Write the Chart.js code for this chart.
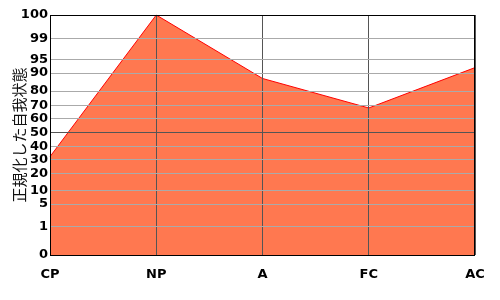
<!DOCTYPE html>
<html>
<head>
<meta charset="utf-8">
<script src="https://cdn.jsdelivr.net/npm/chart.js@4/dist/chart.umd.min.js"></script>
<style>
  html, body { margin: 0; padding: 0; background: #fff; }
  #wrap { width: 500px; height: 300px; }
</style>
</head>
<body>
<div id="wrap"><canvas id="egram"></canvas></div>
<script>
// data
const labels = ['CP', 'NP', 'A', 'FC', 'AC'];
const values = [32, 100, 87, 68, 92];
const tickValues = [0, 1, 5, 10, 20, 30, 40, 50, 60, 70, 80, 90, 95, 99, 100];

// percentile scale: where each tick sits, as a share of the axis height
const tickSpots = [0, 0.120, 0.2125, 0.270, 0.340, 0.399, 0.453, 0.511,
                   0.567, 0.624, 0.683, 0.758, 0.815, 0.903, 1];

class PercentScale extends Chart.LinearScale {
    determineDataLimits() {
        this.min = 0;
        this.max = 100;
    }
    buildTicks() {
        return tickValues.map(v => ({ value: v }));
    }
    toDecimal(v) {
        if (v <= tickValues[0]) return 0;
        for (let i = 1; i < tickValues.length; i++) {
            if (v <= tickValues[i]) {
                const a = tickValues[i - 1], b = tickValues[i];
                const t = (v - a) / (b - a);
                return tickSpots[i - 1] + t * (tickSpots[i] - tickSpots[i - 1]);
            }
        }
        return 1;
    }
    getPixelForValue(value) {
        return this.getPixelForDecimal(this.toDecimal(value));
    }
    getValueForPixel(pixel) {
        const d = this.getDecimalForPixel(pixel);
        for (let i = 1; i < tickSpots.length; i++) {
            if (d <= tickSpots[i]) {
                const t = (d - tickSpots[i - 1]) / (tickSpots[i] - tickSpots[i - 1]);
                return tickValues[i - 1] + t * (tickValues[i] - tickValues[i - 1]);
            }
        }
        return 100;
    }
}
PercentScale.id = 'percent';
PercentScale.defaults = {};
Chart.register(PercentScale);

// black frame round the plot
const frame = {
    id: 'frame',
    afterDraw: (chart) => {
        const a = chart.chartArea;
        const ctx = chart.ctx;
        ctx.save();
        ctx.strokeStyle = '#000';
        ctx.lineWidth = 1;
        ctx.strokeRect(Math.round(a.left) + 0.5, Math.round(a.top) + 0.5,
                       Math.round(a.right - a.left) - 1, Math.round(a.bottom - a.top));
        ctx.restore();
    }
};

const tickFont = { family: '"DejaVu Sans", sans-serif', size: 13, weight: 'bold' };

new Chart(document.getElementById('egram'), {
    type: 'line',
    data: {
        labels: labels,
        datasets: [{
            data: values,
            borderColor: '#ff0000',
            borderWidth: 1,
            backgroundColor: '#ff7850',
            fill: 'origin',
            tension: 0,
            pointRadius: 0
        }]
    },
    options: {
        responsive: true,
        maintainAspectRatio: false,
        animation: false,
        layout: { padding: { top: 15, right: 25, left: 0, bottom: 0 } },
        plugins: { legend: { display: false }, tooltip: { enabled: false } },
        scales: {
            x: {
                offset: false,
                grid: { color: '#555', drawTicks: false, z: 1 },
                border: { display: false },
                ticks: { color: '#000', font: tickFont, padding: 12, maxRotation: 0, autoSkip: false },
                afterFit: (s) => { s.height = 45; }
            },
            y: {
                type: 'percent',
                grid: {
                    drawTicks: false,
                    z: 1,
                    color: (c) => c.tick && c.tick.value === 50 ? '#555' : '#aaa'
                },
                border: { display: false },
                ticks: { color: '#000', font: tickFont, padding: 2, autoSkip: false, callback: (v) => String(v) },
                title: {
                    display: true,
                    text: '正規化した自我状態',
                    color: '#111',
                    font: { family: '"Noto Sans CJK JP", sans-serif', size: 15 },
                    padding: { top: 10, bottom: 0 }
                },
                afterFit: (s) => { s.width = 50; }
            }
        }
    },
    plugins: [frame]
});
</script>
</body>
</html>
